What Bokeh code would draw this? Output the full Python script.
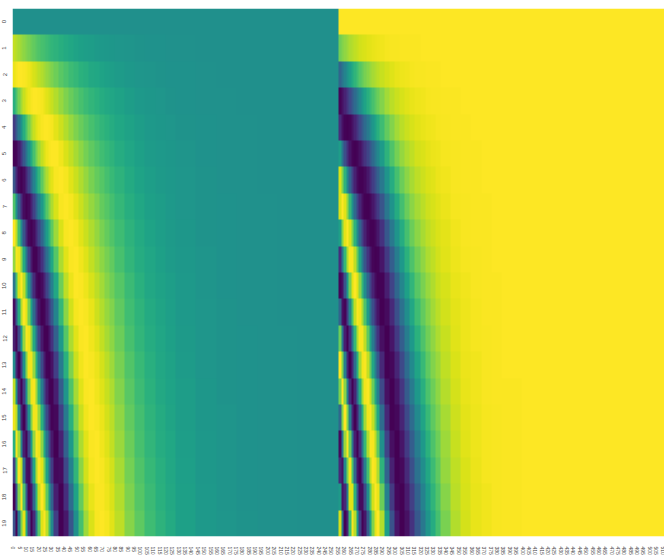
import numpy as np
from bokeh.plotting import figure
from bokeh.models import LinearColorMapper, Range1d, FixedTicker
from bokeh.palettes import Viridis256
from bokeh.embed import file_html
from bokeh.resources import INLINE

# column widths of the value steps read along each half of the heatmap
bin_widths = [2] * 16 + [4] * 12 + [8] * 6 + [16] * 8

# left half: one list per step, rows 0..19
s00 = [0,.82,.94,.25,-.66,-.99,-.47,.45,.99,.68,-.22,-.93,-.84,-.03,.81,.94,.27,-.64,-1,-.50]
s01 = [0,.78,.97,.43,-.43,-.97,-.78,0,.78,.97,.43,-.43,-.97,-.78,0,.78,.97,.43,-.43,-.97]
s02 = [0,.74,1,.59,-.20,-.86,-.96,-.42,.39,.94,.88,.24,-.56,-.99,-.77,-.04,.71,1,.63,-.16]
s03 = [0,.70,1,.72,.03,-.68,-1,-.74,-.06,.65,1,.77,.10,-.63,-.99,-.79,-.13,.80,.99,.61]
s04 = [0,.66,.99,.83,.25,-.46,-.93,-.94,-.48,.23,.81,.99,.68,.02,-.65,-.99,-.84,-.27,.44,.92]
s05 = [0,.62,.97,.90,.43,-.22,-.78,-1,-.78,-.22,.43,.90,.98,.62,0,-.62,-.97,-.90,-.43,.22]
s06 = [0,.59,.95,.95,.60,.01,-.58,-.95,-.96,-.60,-.02,.57,.94,.96,.61,.03,-.56,-.94,-.96,-.62]
s07 = [0,.55,.92,.98,.73,.23,-.35,-.81,-1,-.86,-.44,.13,.65,.96,.95,.63,.10,-.47,-.88,-1]
s08 = [0,.52,.88,1,.83,.42,-.11,-.61,-.93,-.99,-.76,-.31,.22,.69,.97,.96,.68,.20,-.33,-.77]
s09 = [0,.48,.85,1,.90,.58,.11,-.38,-.78,-.99,-.95,-.67,-.23,.27,.70,.96,.98,.75,.34,-.16]
s10 = [0,.45,.81,.99,.95,.71,.32,-.14,-.58,-.88,-1,-.90,-.60,-.18,.29,.69,.94,.99,.83,.48]
s11 = [0,.42,.77,.97,.98,.82,.50,.08,-.35,-.71,-.94,-1,-.86,-.57,-.16,.27,.65,.91,1,.90]
s12 = [0,.40,.73,.94,1,.89,.65,.29,-.11,-.50,-.80,-.97,-.99,-.84,-.56,-.18,.22,.59,.86,.99]
s13 = [0,.37,.69,.91,1,.95,.76,.47,.11,-.26,-.60,-.85,-.99,-.98,-.83,-.57,-.23,.15,.50,.79]
s14 = [0,.34,.65,.87,.99,.98,.86,.63,.32,-.03,-.37,-.67,-.88,-.99,-.98,-.84,-.60,-.29,.05,.40]
s15 = [0,.32,.61,.83,.97,1,.92,.75,.50,.19,-.13,-.45,-.71,-.90,-.99,-.98,-.86,-.66,-.38,-.06]
s16 = [0,.29,.56,.77,.92,1,.98,.88,.71,.47,.20,-.10,-.38,-.63,-.83,-.96,-1,-.96,-.83,-.64]
s17 = [0,.25,.49,.69,.85,.96,1,.98,.89,.75,.56,.33,.08,-.17,-.41,-.63,-.81,-.93,-.99,-.99]
s18 = [0,.22,.43,.61,.77,.89,.97,1,.98,.91,.80,.65,.47,.27,.05,-.17,-.38,-.57,-.74,-.87]
s19 = [0,.19,.37,.54,.69,.82,.91,.97,1,.99,.94,.86,.75,.61,.45,.27,.08,-.11,-.29,-.47]
s20 = [0,.16,.33,.48,.61,.74,.84,.92,.97,1,1,.97,.91,.84,.73,.61,.47,.32,.16,0]
s21 = [0,.14,.28,.42,.54,.66,.76,.84,.91,.96,.99,1,.99,.96,.91,.84,.75,.65,.53,.41]
s22 = [0,.12,.25,.36,.48,.58,.68,.76,.84,.90,.95,.98,1,1,.99,.96,.91,.86,.79,.71]
s23 = [0,.11,.21,.32,.42,.51,.60,.68,.76,.82,.88,.93,.96,.98,1,1,.99,.97,.93,.89]
s24 = [0,.09,.19,.28,.36,.45,.53,.61,.68,.74,.80,.85,.90,.94,.96,.98,1,1,.99,.98]
s25 = [0,.08,.16,.24,.32,.39,.47,.53,.60,.66,.72,.77,.82,.87,.90,.94,.96,.98,.99,1]
s26 = [0,.07,.14,.21,.28,.34,.41,.47,.53,.59,.64,.69,.74,.79,.83,.87,.90,.93,.95,.97]
s27 = [0,.06,.12,.18,.24,.30,.35,.41,.46,.52,.57,.62,.66,.71,.75,.79,.82,.86,.89,.91]
s28 = [0,.05,.10,.15,.19,.24,.29,.33,.38,.42,.47,.51,.55,.59,.63,.67,.70,.74,.77,.80]
s29 = [0,.04,.07,.11,.15,.18,.22,.25,.29,.32,.36,.39,.42,.46,.49,.52,.55,.58,.61,.64]
s30 = [0,.03,.05,.08,.11,.14,.16,.19,.22,.24,.27,.30,.32,.35,.37,.40,.42,.45,.47,.50]
s31 = [0,.02,.04,.06,.08,.10,.12,.14,.16,.18,.20,.22,.24,.26,.28,.30,.32,.34,.36,.38]
s32 = [0,.02,.03,.05,.06,.08,.09,.11,.12,.14,.15,.17,.18,.20,.21,.23,.24,.26,.27,.29]
s33 = [0,.01,.02,.03,.05,.06,.07,.08,.09,.10,.12,.13,.14,.15,.16,.17,.19,.20,.21,.22]
s34 = [0,.01,.02,.02,.03,.04,.05,.05,.06,.07,.08,.08,.09,.10,.11,.11,.12,.13,.14,.14]
s35 = [0,0,.01,.01,.02,.02,.03,.03,.03,.04,.04,.05,.05,.05,.06,.06,.07,.07,.08,.08]
s36 = [0,0,0,.01,.01,.01,.01,.02,.02,.02,.02,.03,.03,.03,.03,.04,.04,.04,.04,.05]
s37 = [0,0,0,0,.01,.01,.01,.01,.01,.01,.01,.01,.02,.02,.02,.02,.02,.02,.02,.03]
s38 = [0,0,0,0,0,0,0,.01,.01,.01,.01,.01,.01,.01,.01,.01,.01,.01,.01,.01]
s39 = [0,0,0,0,0,0,0,0,0,0,0,0,.01,.01,.01,.01,.01,.01,.01,.01]
s40 = [0,0,0,0,0,0,0,0,0,0,0,0,0,0,0,0,0,0,0,0]
s41 = [0,0,0,0,0,0,0,0,0,0,0,0,0,0,0,0,0,0,0,0]

# right half: one list per step, rows 0..19
c00 = [1,.57,-.35,-.97,-.75,.11,.88,.89,.14,-.74,-.98,-.37,.55,1,.59,-.33,-.96,-.77,.09,.87]
c01 = [1,.62,-.22,-.90,-.90,-.22,.62,1,.62,-.22,-.90,-.90,-.22,.62,1,.62,-.22,-.90,-.90,-.22]
c02 = [1,.67,-.10,-.80,-.98,-.52,.29,.91,.92,.33,-.48,-.97,-.83,-.14,.64,1,.70,-.06,-.78,-.99]
c03 = [1,.71,.02,-.69,-1,-.73,-.05,.67,1,.76,.08,-.64,-1,-.78,-.11,.62,.99,.60,-.14,-.79]
c04 = [1,.75,.12,-.56,-.97,-.89,-.36,.34,.88,.97,.58,-.10,-.74,-1,-.76,-.14,.55,.96,.90,.38]
c05 = [1,.78,.22,-.43,-.90,-.97,-.62,0,.62,.97,.90,.44,-.22,-.78,-1,-.78,-.22,.43,.90,.98]
c06 = [1,.81,.31,-.30,-.80,-1,-.82,-.32,.29,.80,1,.82,.33,-.28,-.79,-1,-.83,-.34,.28,.78]
c07 = [1,.83,.39,-.18,-.69,-.97,-.94,-.59,-.05,.51,.90,.99,.76,.27,-.30,-.78,-1,-.88,-.48,.08]
c08 = [1,.86,.47,-.06,-.56,-.91,-.99,-.79,-.36,.17,.65,.95,.97,.72,.26,-.28,-.73,-.98,-.94,-.64]
c09 = [1,.88,.53,.06,-.43,-.81,-.99,-.92,-.62,-.17,.33,.74,.97,.96,.71,.28,-.22,-.66,-.94,-.99]
c10 = [1,.89,.59,.16,-.30,-.70,-.95,-.99,-.82,-.47,-.02,.44,.80,.98,.96,.72,.33,-.13,-.56,-.88]
c11 = [1,.91,.64,.26,-.18,-.58,-.87,-1,-.94,-.70,-.34,.09,.50,.82,.99,.96,.76,.41,-.01,-.43]
c12 = [1,.92,.69,.34,-.06,-.45,-.76,-.96,-.99,-.87,-.60,-.24,.17,.54,.83,.98,.98,.81,.51,.13]
c13 = [1,.93,.73,.42,.06,-.32,-.64,-.88,-.99,-.97,-.80,-.52,-.17,.20,.55,.82,.97,.99,.86,.62]
c14 = [1,.94,.76,.49,.16,-.19,-.52,-.78,-.95,-1,-.93,-.74,-.47,-.13,.21,.54,.80,.96,1,.92]
c15 = [1,.95,.79,.55,.26,-.07,-.38,-.66,-.87,-.98,-.99,-.89,-.71,-.44,-.13,.20,.50,.75,.93,1]
c16 = [1,.96,.83,.63,.38,.10,-.19,-.47,-.71,-.88,-.98,-1,-.92,-.77,-.56,-.29,0,.29,.55,.77]
c17 = [1,.97,.87,.72,.52,.29,.04,-.21,-.45,-.66,-.83,-.94,-1,-.99,-.91,-.78,-.60,-.37,-.13,.13]
c18 = [1,.98,.90,.79,.63,.45,.24,.03,-.19,-.40,-.59,-.76,-.88,-.96,-1,-.99,-.92,-.82,-.67,-.50]
c19 = [1,.98,.93,.84,.72,.58,.41,.23,.04,-.15,-.33,-.51,-.66,-.79,-.89,-.96,-1,-.99,-.96,-.88]
c20 = [1,.99,.95,.88,.79,.68,.55,.40,.24,.08,-.08,-.25,-.40,-.55,-.68,-.79,-.88,-.95,-.99,-1]
c21 = [1,.99,.96,.91,.84,.75,.65,.54,.41,.28,.14,-.01,-.15,-.29,-.42,-.55,-.66,-.76,-.85,-.91]
c22 = [1,.99,.97,.93,.88,.81,.74,.65,.55,.44,.32,.20,.08,-.04,-.17,-.29,-.40,-.51,-.62,-.71]
c23 = [1,.99,.98,.95,.91,.86,.80,.73,.65,.57,.48,.38,.28,.17,.07,-.04,-.15,-.25,-.36,-.45]
c24 = [1,1,.98,.96,.93,.89,.85,.79,.74,.67,.60,.52,.44,.35,.26,.17,.08,-.01,-.11,-.20]
c25 = [1,1,.99,.97,.95,.92,.89,.85,.80,.75,.69,.63,.57,.50,.43,.35,.28,.20,.12,.04]
c26 = [1,1,.99,.98,.96,.94,.91,.88,.85,.81,.76,.72,.67,.62,.56,.50,.44,.37,.31,.24]
c27 = [1,1,.99,.98,.97,.95,.94,.91,.89,.86,.83,.79,.75,.70,.66,.61,.56,.51,.46,.41]
c28 = [1,1,1,.99,.98,.97,.96,.94,.92,.91,.88,.86,.83,.81,.78,.74,.71,.68,.64,.60]
c29 = [1,1,1,.99,.99,.98,.98,.97,.96,.95,.93,.92,.91,.89,.87,.85,.83,.81,.79,.77]
c30 = [1,1,1,1,.99,.99,.99,.98,.98,.97,.96,.95,.95,.94,.93,.92,.91,.89,.88,.87]
c31 = [1,1,1,1,1,.99,.99,.99,.99,.98,.98,.97,.97,.96,.96,.95,.95,.94,.93,.93]
c32 = [1,1,1,1,1,1,1,.99,.99,.99,.99,.99,.98,.98,.98,.97,.97,.97,.96,.96]
c33 = [1,1,1,1,1,1,1,1,1,1,.99,.99,.99,.99,.99,.98,.98,.98,.98,.98]
c34 = [1,1,1,1,1,1,1,1,1,1,1,1,1,1,.99,.99,.99,.99,.99,.99]
c35 = [1,1,1,1,1,1,1,1,1,1,1,1,1,1,1,1,1,1,1,1]
c36 = [1,1,1,1,1,1,1,1,1,1,1,1,1,1,1,1,1,1,1,1]
c37 = [1,1,1,1,1,1,1,1,1,1,1,1,1,1,1,1,1,1,1,1]
c38 = [1,1,1,1,1,1,1,1,1,1,1,1,1,1,1,1,1,1,1,1]
c39 = [1,1,1,1,1,1,1,1,1,1,1,1,1,1,1,1,1,1,1,1]
c40 = [1,1,1,1,1,1,1,1,1,1,1,1,1,1,1,1,1,1,1,1]
c41 = [1,1,1,1,1,1,1,1,1,1,1,1,1,1,1,1,1,1,1,1]

left_steps = [s00,s01,s02,s03,s04,s05,s06,s07,s08,s09,s10,s11,s12,s13,s14,s15,s16,s17,s18,s19,s20,
              s21,s22,s23,s24,s25,s26,s27,s28,s29,s30,s31,s32,s33,s34,s35,s36,s37,s38,s39,s40,s41]
right_steps = [c00,c01,c02,c03,c04,c05,c06,c07,c08,c09,c10,c11,c12,c13,c14,c15,c16,c17,c18,c19,c20,
               c21,c22,c23,c24,c25,c26,c27,c28,c29,c30,c31,c32,c33,c34,c35,c36,c37,c38,c39,c40,c41]

left = np.repeat(np.array(left_steps, dtype=float).T, bin_widths, axis=1)
right = np.repeat(np.array(right_steps, dtype=float).T, bin_widths, axis=1)
arr = np.hstack([left, right])

p = figure(width=665, height=549, output_backend="svg", toolbar_location=None,
           x_range=Range1d(0, 512), y_range=Range1d(20, 0),
           min_border_left=12, min_border_right=0, min_border_top=0, min_border_bottom=0,
           outline_line_color=None)
p.styles = {"position": "absolute", "left": "-1px", "top": "8px"}
p.grid.visible = False
mapper = LinearColorMapper(palette=Viridis256, low=-1, high=1)
p.image(image=[arr], x=0, y=0, dw=512, dh=20, color_mapper=mapper)
x_ticks = list(range(0, 512, 5))
p.xaxis.ticker = FixedTicker(ticks=[t + 0.5 for t in x_ticks])
p.xaxis.major_label_overrides = {t + 0.5: str(t) for t in x_ticks}
p.yaxis.ticker = FixedTicker(ticks=[r + 0.5 for r in range(20)])
p.yaxis.major_label_overrides = {r + 0.5: str(r) for r in range(20)}
for ax, orient, size, off in ((p.xaxis[0], "vertical", "5px", 4), (p.yaxis[0], "vertical", "6px", 0)):
    ax.major_label_orientation = orient
    ax.major_label_text_font = "Liberation Sans"
    ax.major_label_text_font_size = size
    ax.major_label_text_color = "#444444"
    ax.major_label_standoff = off
    ax.axis_line_color = None
    ax.major_tick_line_color = None
    ax.minor_tick_line_color = None
open("out.html", "w").write(file_html(p, INLINE))
